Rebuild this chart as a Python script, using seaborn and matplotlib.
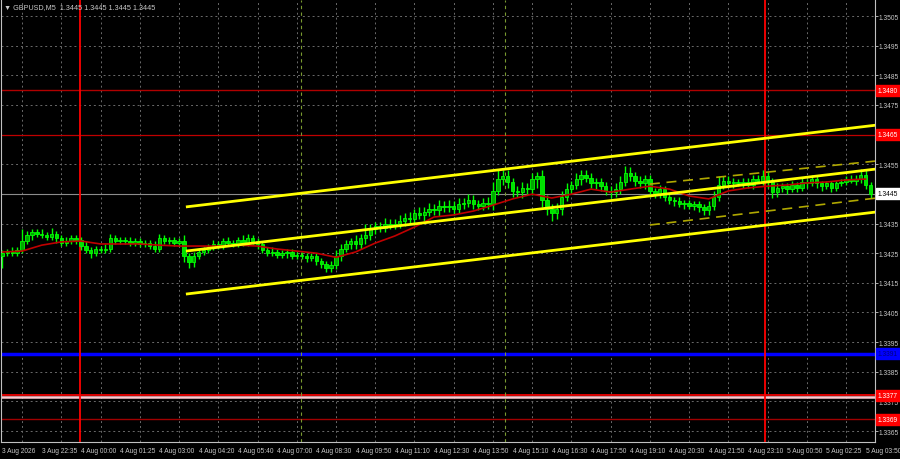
import matplotlib
matplotlib.use("Agg")
import matplotlib.pyplot as plt
import matplotlib.transforms as mtransforms
import numpy as np
import seaborn as sns

# GBPUSD M5 - closes in pips above 1.3400, one candle = ~2 bars of the terminal
base = 1.3400
first_open = 24.0
closes = [25, 25.5, 25, 26, 29, 31, 32, 31.5, 31, 30.5, 31.5, 30, 28.5, 29, 30, 29.5,
          27.5, 26, 25, 26.5, 26, 26.5, 30, 29, 29.5, 29, 28.5, 29, 28, 28.5, 27.5, 26.5,
          30, 29, 29.5, 28.5, 29, 24, 22, 24, 25.5, 26, 27, 28, 27.5, 29, 28.5, 28,
          29.5, 28.5, 30, 29, 28, 26, 25, 25.5, 24.5, 25, 25.5, 24, 24.5, 24, 23.5, 24,
          22.5, 21.5, 20, 21, 24, 26.5, 28, 29, 28, 30, 31, 33, 34, 33.5, 35, 34.5,
          35, 36, 37, 36.5, 38.5, 38, 39, 40, 39.5, 41, 40.5, 41, 40, 41.5, 42, 43,
          41.5, 41, 42, 41.5, 46, 50, 51, 49, 46, 45.5, 47, 46.5, 50, 51, 43, 40,
          38.5, 40, 44, 46.5, 48, 50, 51.5, 50.5, 48.5, 49, 47.5, 46, 45.5, 46.5, 49, 52,
          51, 49.5, 48.5, 50, 46, 45, 46.5, 44, 43, 42.5, 41.5, 42, 41, 41.5, 40.5, 39.5,
          41, 44, 48, 49.5, 48.5, 49, 48.5, 49, 48, 50, 49.5, 51, 49, 45.5, 47, 47.5,
          46.5, 48, 47, 49, 48.5, 50, 48.5, 47.5, 48.5, 47, 48.5, 49, 50, 49.5, 50, 51.5,
          48, 45]
# wick lengths above / below the body, pips
wick_up = [1, 1, 1.5, 1, 2, 1.5, 1, 1, 1.5, 1, 2, 1, 1, 1.5, 1, 1,
           1, 1.5, 1, 1, 1, 1.5, 1.5, 1, 1, 1, 1.5, 1, 1, 1, 1, 1.5,
           1.5, 1, 1, 1, 1, 2, 1, 1.5, 1, 1, 1, 1.5, 1, 1, 1.5, 1,
           1, 1.5, 1.5, 1, 1, 1, 1, 1.5, 1, 1, 1, 1, 1, 1, 1, 1,
           1, 1, 1, 1.5, 2, 1.5, 1.5, 1, 2, 1.5, 2, 2, 1.5, 1.5, 2, 1.5,
           1.5, 2, 1.5, 2, 1.5, 2, 1.5, 2, 1.5, 2, 1.5, 2, 1.5, 2, 1.5, 2,
           1.5, 1.5, 1.5, 2, 3, 2.5, 2, 2, 1.5, 1.5, 2, 1.5, 2, 1.5, 2, 1.5,
           1.5, 2, 2, 2, 1.5, 2, 1.5, 1.5, 1.5, 1.5, 1.5, 1.5, 1.5, 2, 2, 2.5,
           2, 1.5, 1.5, 1.5, 1.5, 1, 1.5, 1, 1, 1, 1.5, 1, 1, 1, 1, 1,
           1.5, 2, 2, 1.5, 1.5, 1.5, 1, 1.5, 1.5, 1.5, 1.5, 2, 1.5, 1.5, 1.5, 1,
           1, 1.5, 1, 1.5, 1, 1.5, 1, 1, 1, 1, 1, 1, 1, 1.5, 1.5, 2, 1.5, 1]
wick_dn = [1.5, 1, 1, 1, 1, 1, 1.5, 1, 1, 1, 1, 1.5, 1, 1, 1, 1.5,
           1.5, 1, 1.5, 1, 1, 1, 1, 1, 1, 1, 1, 1, 1, 1, 1, 1,
           1, 1, 1, 1, 1, 2, 2, 1.5, 1, 1, 1, 1, 1, 1, 1, 1,
           1, 1, 1, 1, 1.5, 1, 1, 1, 1, 1, 1.5, 1, 1, 1, 1.5, 1,
           1.5, 1.5, 1.5, 1.5, 1.5, 1.5, 1, 1.5, 1.5, 1.5, 2, 1.5, 1.5, 1.5, 1.5, 1.5,
           1.5, 1.5, 2, 1.5, 2, 1.5, 2, 1.5, 1.5, 2, 1.5, 1.5, 2, 1.5, 1.5, 1.5,
           1.5, 1.5, 1.5, 1.5, 2, 1.5, 2, 2, 2, 1.5, 2, 2, 2, 3, 2.5, 2,
           2, 2, 2, 1.5, 1.5, 1.5, 2, 1.5, 1.5, 2, 1.5, 1.5, 2, 1.5, 1.5, 1.5,
           1.5, 2, 1.5, 2, 2, 1.5, 1.5, 1.5, 1.5, 1.5, 1, 1.5, 1, 1.5, 1.5, 1.5,
           1.5, 1.5, 1.5, 1.5, 1, 1.5, 1, 1.5, 1, 1.5, 1, 1.5, 2, 2, 1.5, 1.5,
           1.5, 1, 1.5, 1, 1.5, 1, 1.5, 1.5, 1, 1.5, 1, 1, 1, 1, 1.5, 1.5, 1.5, 1.5]
# a few spikes (candle, pips)
hi_idx = [4, 22, 32, 50, 74, 101, 109, 118, 127, 146, 155, 175]
hi_val = [33, 31.5, 31, 31.5, 35, 53, 52.5, 53, 54.5, 51, 53, 53.5]
lo_idx = [0, 38, 66, 112, 143, 157]
lo_val = [20, 20, 19, 36, 38, 44]

# red moving average, read every 4 candles
ma_idx = list(range(0, 177, 4))
ma_val = [25.4, 25.7, 27.7, 28.8, 29.1, 28.1, 28.1, 28.1, 27.7, 27.4, 27.4, 27.4, 27.7,
          27.4, 26.4, 25.7, 25.0, 23.6, 25.4, 28.4, 30.8, 33.8, 37.2, 37.9, 39.2, 41.2,
          43.3, 44.9, 43.6, 44.9, 46.6, 45.6, 46.6, 47.6, 46.6, 44.3, 43.3, 46.0, 47.0,
          47.6, 48.0, 48.7, 49.0, 49.7, 50.0]

# regression channel (solid) and short channel (dashed), endpoints in candles / pips
ch_x = [37.4, 178.2]
ch_upper = [40.6, 68.2]
ch_mid = [25.7, 53.4]
ch_lower = [11.2, 38.9]
dch_x = [132.0, 178.2]
dch_upper = [48.3, 56.1]
dch_lower = [34.5, 43.6]

# levels
lvl_prices = [1.3480, 1.3465, 1.3391, 1.3377, 1.3369]
lvl_colors = ["#b00000", "#c00000", "#0000ff", "#ff0000", "#a00000"]
lvl_widths = [1.0, 0.9, 2.5, 1.2, 1.0]
lvl_box = ["#ff0000", "#ff0000", "#0000ff", "#ff0000", "#ff0000"]
lvl_text = ["white", "white", "#000080", "white", "white"]
pink_level = 1.33765
bid = 1.3445

day_lines = [15.8, 155.5]
session_lines = [60.9, 102.5]

xlabels = ["3 Aug 2026", "3 Aug 22:35", "4 Aug 00:00", "4 Aug 01:25", "4 Aug 03:00",
           "4 Aug 04:20", "4 Aug 05:40", "4 Aug 07:00", "4 Aug 08:30", "4 Aug 09:50",
           "4 Aug 11:10", "4 Aug 12:30", "4 Aug 13:50", "4 Aug 15:10", "4 Aug 16:30",
           "4 Aug 17:50", "4 Aug 19:10", "4 Aug 20:30", "4 Aug 21:50", "4 Aug 23:10",
           "5 Aug 00:50", "5 Aug 02:25", "5 Aug 03:50"]
yticks = [1.3365, 1.3375, 1.3385, 1.3395, 1.3405, 1.3415, 1.3425, 1.3435, 1.3445,
          1.3455, 1.3465, 1.3475, 1.3485, 1.3495, 1.3505]
hidden_ticks = [1.3445, 1.3465]  # covered by the price boxes in the terminal

sns.set_style("dark", {"axes.facecolor": "black", "figure.facecolor": "black"})
fonts = ["Liberation Sans Narrow", "Liberation Sans", "DejaVu Sans"]
plt.rcParams["font.family"] = fonts
fs = 4.8

fig = plt.figure(figsize=(9, 4.6), dpi=100)
ax = fig.add_axes([1 / 900, 17 / 460, 874 / 900, 442 / 460])
ax.set_facecolor("black")

px = lambda v: base + np.asarray(v, dtype=float) / 10000

c = px(closes)
o = np.concatenate([[px(first_open)], c[:-1]])
x = np.arange(len(c))
up = c >= o
h = c - o
h = np.where(np.abs(h) < 0.00003, 0.00003, h)
body_top = np.maximum(o, c)
body_bot = np.minimum(o, c)
hi = body_top + np.asarray(wick_up) / 10000
lo = body_bot - np.asarray(wick_dn) / 10000
hi[hi_idx] = np.maximum(hi[hi_idx], px(hi_val))
lo[lo_idx] = np.minimum(lo[lo_idx], px(lo_val))

# grid
ax.set_xticks([8 * k for k in range(len(xlabels))])
ax.set_xticks([4 * k for k in range(2 * len(xlabels))], minor=True)
ax.set_yticks(yticks)
for xv in ax.get_xticks(minor=True):
    ax.axvline(xv, color="#6a6a6a", lw=0.7, ls=(0, (2, 3)), zorder=1)
for yv in yticks:
    ax.axhline(yv, color="#6a6a6a", lw=0.7, ls=(0, (2, 3)), zorder=1)

# levels
for p, col, lw in zip(lvl_prices, lvl_colors, lvl_widths):
    ax.axhline(p, color=col, lw=lw, zorder=2)
ax.axhline(pink_level, color="#ffc8d0", lw=1.8, zorder=2)
ax.axhline(bid, color="#8c8c8c", lw=0.8, zorder=2)

for xv in day_lines:
    ax.axvline(xv, color="#ff0000", lw=1.3, zorder=3)
for xv in session_lines:
    ax.axvline(xv, color="#7a9a30", lw=0.8, ls=(0, (3, 3)), zorder=2)

# candles
ax.vlines(x, lo, hi, color="#00ff00", lw=1.0, zorder=4)
ax.bar(x[up], h[up], bottom=o[up], width=0.7, color="#00a800", edgecolor="#00ff00",
       linewidth=0.6, zorder=4)
ax.bar(x[~up], h[~up], bottom=o[~up], width=0.7, color="#00e000", edgecolor="#00ff00",
       linewidth=0.6, zorder=4)

sns.lineplot(x=ma_idx, y=px(ma_val), color="#c00000", lw=1.2, ax=ax, zorder=5)

# channels
for yy in (ch_upper, ch_mid, ch_lower):
    ax.plot(ch_x, px(yy), color="#ffff00", lw=2.0, zorder=6, solid_capstyle="butt")
for yy in (dch_upper, dch_lower):
    ax.plot(dch_x, px(yy), color="#b0a800", lw=1.2, ls=(0, (6, 4)), zorder=6)

ax.set_xlim(-0.3, 177.9)
ax.set_ylim(1.33613, 1.35104)

ax.yaxis.tick_right()
ax.set_yticklabels(["" if v in hidden_ticks else f"{v:.4f}" for v in yticks])
ax.set_xticklabels(xlabels, ha="left")
ax.tick_params(axis="both", which="both", colors="#c8c8c8", labelsize=fs,
               length=2, width=0.6, direction="out", pad=1.5)
ax.tick_params(axis="y", pad=0.8)
ax.tick_params(axis="x", which="minor", length=1.5)
ax.set_xlabel("")
ax.set_ylabel("")
for side in ("left", "right", "bottom"):
    ax.spines[side].set_color("#c0c0c0")
    ax.spines[side].set_linewidth(0.8)
    ax.spines[side].set_visible(True)
ax.spines["top"].set_visible(False)

# price boxes on the right scale
trans = mtransforms.blended_transform_factory(ax.transAxes, ax.transData)
for p, bc, tc in zip(lvl_prices, lvl_box, lvl_text):
    ax.text(1.003, p, f"{p:.4f}", transform=trans, ha="left", va="center", fontsize=fs,
            color=tc, clip_on=False, zorder=10,
            bbox=dict(boxstyle="square,pad=0.3", facecolor=bc, edgecolor=bc))
ax.text(1.003, bid, f"{bid:.4f}", transform=trans, ha="left", va="center", fontsize=fs,
        color="black", clip_on=False, zorder=10,
        bbox=dict(boxstyle="square,pad=0.3", facecolor="white", edgecolor="white"))

ax.text(0.004, 0.992, "\u25bc GBPUSD,M5  1.3445 1.3445 1.3445 1.3445", transform=ax.transAxes,
        ha="left", va="top", fontsize=5.2, color="#c8c8c8",
        family=fonts, zorder=10)

fig.savefig("out.png", dpi=100, facecolor="black")
